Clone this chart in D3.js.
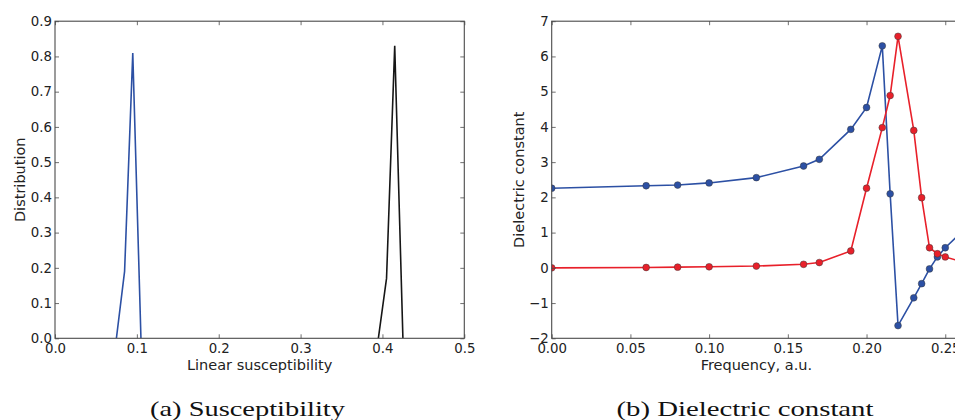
<!DOCTYPE html>
<html>
<head>
<meta charset="utf-8">
<script src="https://cdn.jsdelivr.net/npm/d3@7"></script>
<style>
  html, body { margin: 0; padding: 0; background: #fff; }
  svg { display: block; }
  .tick text { font-family: "DejaVu Sans", sans-serif; font-size: 13.3px; fill: #222; }
</style>
</head>
<body>
<svg id="chart" width="955" height="420"></svg>
<script>
// ---- Data: panel (a) susceptibility distributions ----
const suscBlueX = [0.075, 0.085, 0.095, 0.105];
const suscBlueY = [0.0, 0.19, 0.81, 0.0];
const suscBlackX = [0.395, 0.405, 0.415, 0.425];
const suscBlackY = [0.0, 0.17, 0.83, 0.0];
const suscXTicks = [0.0, 0.1, 0.2, 0.3, 0.4, 0.5];
const suscYTicks = [0.0, 0.1, 0.2, 0.3, 0.4, 0.5, 0.6, 0.7, 0.8, 0.9];

// ---- Data: panel (b) dielectric constant ----
const freq = [0.00, 0.06, 0.08, 0.10, 0.13, 0.16, 0.17, 0.19, 0.20, 0.21, 0.215, 0.22, 0.23, 0.235, 0.24, 0.245, 0.25, 0.26];
const epsReal = [2.26, 2.33, 2.35, 2.41, 2.56, 2.89, 3.08, 3.93, 4.55, 6.30, 2.10, -1.64, -0.85, -0.45, -0.03, 0.31, 0.57, 1.0];
const epsImag = [0.00, 0.01, 0.02, 0.03, 0.05, 0.10, 0.15, 0.48, 2.26, 3.98, 4.89, 6.57, 3.90, 1.99, 0.57, 0.40, 0.31, 0.18];
const freqTicks = [0.00, 0.05, 0.10, 0.15, 0.20, 0.25];
const epsTicks = [-2, -1, 0, 1, 2, 3, 4, 5, 6, 7];

const svg = d3.select("#chart");
const BLUE = "#2c50a4", RED = "#e8202a", BLACK = "#161616", SPINE = "#4a4a4a";
const plotTop = 21.2, plotBottom = 338.3, plotW = 409.3;

function panel(opts) {
  const g = svg.append("g");
  const x = d3.scaleLinear().domain(opts.xDomain).range([opts.left, opts.left + plotW]);
  const y = d3.scaleLinear().domain(opts.yDomain).range([plotBottom, plotTop]);
  const clipId = "clip" + opts.id;
  svg.append("clipPath").attr("id", clipId).append("rect")
    .attr("x", opts.left).attr("y", plotTop).attr("width", plotW).attr("height", plotBottom - plotTop);

  const data = g.append("g").attr("clip-path", `url(#${clipId})`);
  opts.series.forEach(s => {
    const pts = s.x.map((v, i) => [v, s.y[i]]);
    data.append("path").datum(pts)
      .attr("fill", "none").attr("stroke", s.color).attr("stroke-width", 1.6)
      .attr("stroke-linejoin", "miter")
      .attr("d", d3.line().x(d => x(d[0])).y(d => y(d[1])));
    if (s.markers) {
      data.selectAll(null).data(pts).enter().append("circle")
        .attr("cx", d => x(d[0])).attr("cy", d => y(d[1])).attr("r", 3.4)
        .attr("fill", s.color).attr("stroke", "#3a3a3a").attr("stroke-width", 0.5);
    }
  });

  const fmtY = v => opts.yFmt(v).replace("-", "\u2212");
  const xb = g.append("g").attr("transform", `translate(0,${plotBottom})`)
    .call(d3.axisBottom(x).tickValues(opts.xTicks).tickFormat(opts.xFmt).tickSizeInner(-4).tickSizeOuter(0).tickPadding(5));
  const xt = g.append("g").attr("transform", `translate(0,${plotTop})`)
    .call(d3.axisTop(x).tickValues(opts.xTicks).tickFormat("").tickSizeInner(-4).tickSizeOuter(0));
  const yl = g.append("g").attr("transform", `translate(${opts.left},0)`)
    .call(d3.axisLeft(y).tickValues(opts.yTicks).tickFormat(fmtY).tickSizeInner(-4).tickSizeOuter(0).tickPadding(3));
  const yr = g.append("g").attr("transform", `translate(${opts.left + plotW},0)`)
    .call(d3.axisRight(y).tickValues(opts.yTicks).tickFormat("").tickSizeInner(-4).tickSizeOuter(0));
  [xb, xt, yl, yr].forEach(a => {
    a.select(".domain").remove();
    a.selectAll(".tick line").attr("stroke", SPINE).attr("stroke-width", 0.8);
  });
  g.append("rect").attr("x", opts.left).attr("y", plotTop).attr("width", plotW).attr("height", plotBottom - plotTop)
    .attr("fill", "none").attr("stroke", SPINE).attr("stroke-width", 1.1);

  g.append("text").attr("x", opts.left + plotW / 2).attr("y", 370)
    .attr("text-anchor", "middle").attr("font-family", "DejaVu Sans, sans-serif")
    .attr("font-size", 14.5).attr("fill", "#222").text(opts.xLabel);
  g.append("text").attr("transform", `translate(${opts.yLabelX},${(plotTop + plotBottom) / 2}) rotate(-90)`)
    .attr("text-anchor", "middle").attr("font-family", "DejaVu Sans, sans-serif")
    .attr("font-size", 14.5).attr("fill", "#222").text(opts.yLabel);
  g.append("text").attr("x", opts.capX).attr("y", 416)
    .attr("text-anchor", "middle").attr("font-family", "Liberation Serif, serif")
    .attr("font-size", 21.5).attr("fill", "#111")
    .attr("textLength", opts.capW).attr("lengthAdjust", "spacingAndGlyphs")
    .text(opts.caption);
}

panel({
  id: "a", left: 55, xDomain: [0, 0.5], yDomain: [0, 0.9],
  xTicks: suscXTicks, yTicks: suscYTicks,
  xFmt: d3.format(".1f"), yFmt: d3.format(".1f"),
  series: [
    { x: suscBlackX, y: suscBlackY, color: BLACK },
    { x: suscBlueX, y: suscBlueY, color: BLUE }
  ],
  xLabel: "Linear susceptibility", yLabel: "Distribution", yLabelX: 25,
  caption: "(a) Susceptibility", capX: 247.5, capW: 195
});

panel({
  id: "b", left: 551.7, xDomain: [0, 0.26], yDomain: [-2, 7],
  xTicks: freqTicks, yTicks: epsTicks,
  xFmt: d3.format(".2f"), yFmt: d3.format("d"),
  series: [
    { x: freq, y: epsReal, color: BLUE, markers: true },
    { x: freq, y: epsImag, color: RED, markers: true }
  ],
  xLabel: "Frequency, a.u.", yLabel: "Dielectric constant", yLabelX: 524,
  caption: "(b) Dielectric constant", capX: 745, capW: 257
});
</script>
</body>
</html>
